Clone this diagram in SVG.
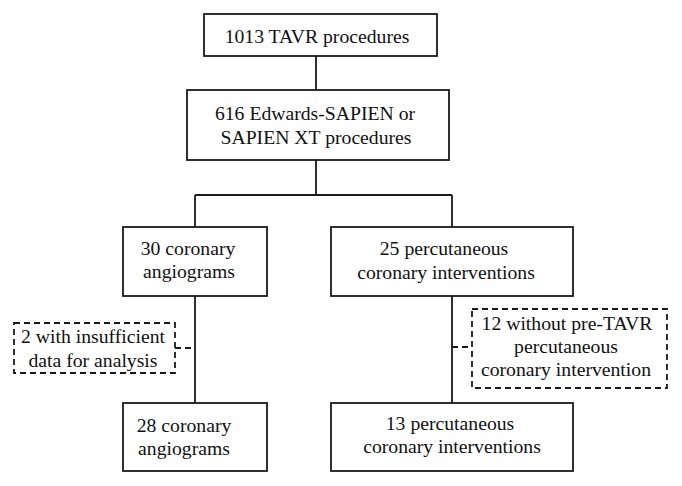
<svg xmlns="http://www.w3.org/2000/svg" width="682" height="486" viewBox="0 0 682 486">
<style>
.box{fill:#fff;stroke:#1a1a1a;stroke-width:1.8}
.dbox{fill:#fff;stroke:#1a1a1a;stroke-width:1.8;stroke-dasharray:6 4}
.ln{fill:none;stroke:#1a1a1a;stroke-width:1.8}
.dln{fill:none;stroke:#1a1a1a;stroke-width:1.8;stroke-dasharray:6 4}
text{font-family:"Liberation Serif","Times New Roman",serif;font-size:19.7px;fill:#111;text-anchor:middle}
</style>
<rect width="682" height="486" fill="#fff"/>
<g id="connectors">
<path class="ln" d="M316,56 V90 M316,160 V195 M195,195 H452 M195,195 V227 M452,195 V227 M195,296 V403 M452,296 V403"/>
<path class="dln" d="M175,348 H195 M452,347 H472"/>
</g>
<g id="n1"><rect class="box" x="204" y="14" width="233" height="42"/><text x="317" y="43">1013 TAVR procedures</text></g>
<g id="n2"><rect class="box" x="187" y="90" width="262" height="70"/><text x="315" y="120">616 Edwards-SAPIEN or</text><text x="316" y="144">SAPIEN XT procedures</text></g>
<g id="n3"><rect class="box" x="123" y="227" width="144" height="69"/><text x="188" y="255">30 coronary</text><text x="189" y="278">angiograms</text></g>
<g id="n4"><rect class="box" x="331" y="227" width="242" height="69"/><text x="444" y="255">25 percutaneous</text><text x="446" y="279">coronary interventions</text></g>
<g id="n5"><rect class="dbox" x="14" y="323" width="161" height="50"/><text x="93" y="343">2 with insufficient</text><text x="93" y="367">data for analysis</text></g>
<g id="n6"><rect class="dbox" x="472" y="309" width="195" height="79"/><text x="567" y="330">12 without pre-TAVR</text><text x="566" y="353">percutaneous</text><text x="566" y="376">coronary intervention</text></g>
<g id="n7"><rect class="box" x="123" y="403" width="144" height="68"/><text x="184" y="432">28 coronary</text><text x="184" y="455">angiograms</text></g>
<g id="n8"><rect class="box" x="331" y="403" width="242" height="68"/><text x="450" y="430">13 percutaneous</text><text x="452" y="453">coronary interventions</text></g>
</svg>
